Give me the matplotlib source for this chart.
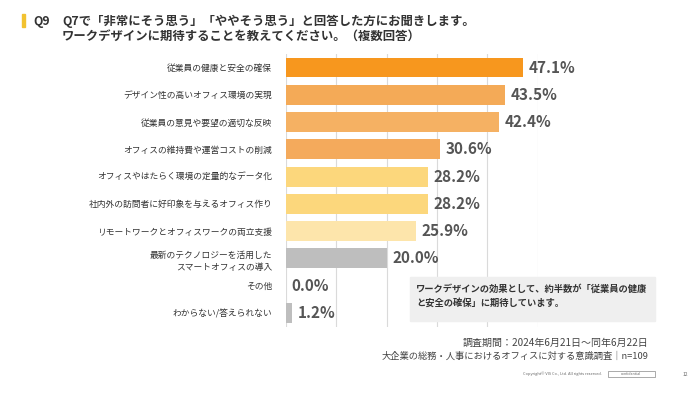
import matplotlib
matplotlib.use("Agg")
import matplotlib.pyplot as plt
from matplotlib.patches import Rectangle

plt.rcParams['font.family'] = ['Noto Sans CJK JP', 'DejaVu Sans']

categories = [
    "従業員の健康と安全の確保",
    "デザイン性の高いオフィス環境の実現",
    "従業員の意見や要望の適切な反映",
    "オフィスの維持費や運営コストの削減",
    "オフィスやはたらく環境の定量的なデータ化",
    "社内外の訪問者に好印象を与えるオフィス作り",
    "リモートワークとオフィスワークの両立支援",
    "最新のテクノロジーを活用した\nスマートオフィスの導入",
    "その他",
    "わからない/答えられない",
]
values = [47.1, 43.5, 42.4, 30.6, 28.2, 28.2, 25.9, 20.0, 0.0, 1.2]
colors = ["#F7971E", "#F4AA57", "#F5B163", "#F4AA5C", "#FCD77C", "#FCD77C",
          "#FDE5AB", "#BEBEBE", "#BEBEBE", "#BEBEBE"]

fig = plt.figure(figsize=(7, 3.94), dpi=100)
ax = fig.add_axes([286/700, 1-326.6/394, 251.5/700, (326.6-53.9)/394])

y = list(range(len(categories)))
ax.barh(y, values, height=0.73, color=colors, zorder=2)
ax.set_ylim(len(categories)-0.5, -0.5)
ax.set_xlim(0, 50)
ax.set_xticks([0, 10, 20, 30, 40, 50])
ax.xaxis.grid(True, color="#DADADA", linewidth=0.8, zorder=0)
ax.tick_params(axis='x', length=0, labelbottom=False)
ax.tick_params(axis='y', length=0, pad=10)
ax.set_yticks(y)
ax.set_yticklabels(categories, fontsize=6.3, color="#333333", linespacing=1.5)
for s in ax.spines.values():
    s.set_visible(False)

for yi, v in zip(y, values):
    ax.annotate(f"{v:.1f}%", xy=(v, yi), xytext=(4, 0), textcoords="offset points",
                va="center", ha="left", fontsize=11, fontweight="bold", color="#555555")

# title
fig.patches.append(Rectangle((22/700, 1-27/394), 3/700, 13/394, transform=fig.transFigure,
                             color="#F2C230", zorder=5))
fig.text(33/700, 1-21/394, "Q9", fontsize=8.9, fontweight="bold", color="#333333", va="center")
fig.text(62/700, 1-21/394, "Q7で「非常にそう思う」「ややそう思う」と回答した方にお聞きします。",
         fontsize=8.9, fontweight="bold", color="#333333", va="center")
fig.text(62/700, 1-36/394, "ワークデザインに期待することを教えてください。（複数回答）",
         fontsize=8.9, fontweight="bold", color="#333333", va="center")

# annotation box
fig.patches.append(Rectangle((410/700, 1-321/394), 245/700, 44/394, transform=fig.transFigure,
                             color="#EFEFEF", zorder=5))
fig.text(416/700, 1-296/394, "ワークデザインの効果として、約半数が「従業員の健康\nと安全の確保」に期待しています。",
         fontsize=6.7, fontweight="bold", color="#333333", va="center", linespacing=1.5, zorder=6)

# footer
fig.text(648/700, 1-343/394, "調査期間：2024年6月21日～同年6月22日", fontsize=7.2,
         color="#444444", ha="right", va="center")
fig.text(648/700, 1-356/394, "大企業の総務・人事におけるオフィスに対する意識調査｜n=109", fontsize=6.7,
         color="#444444", ha="right", va="center")
fig.text(602/700, 1-374/394, "Copyright© VIS Co., Ltd. All rights reserved.", fontsize=2.8,
         color="#666666", ha="right", va="center")
fig.patches.append(Rectangle((608/700, 1-377/394), 47/700, 6/394, transform=fig.transFigure,
                             facecolor="white", edgecolor="#888888", linewidth=0.5))
fig.text(631/700, 1-374/394, "confidential", fontsize=2.6, color="#666666", ha="center", va="center")
fig.text(685/700, 1-374/394, "12", fontsize=3.5, color="#666666", ha="center", va="center")

fig.savefig("out.png", dpi=100, facecolor="white")
